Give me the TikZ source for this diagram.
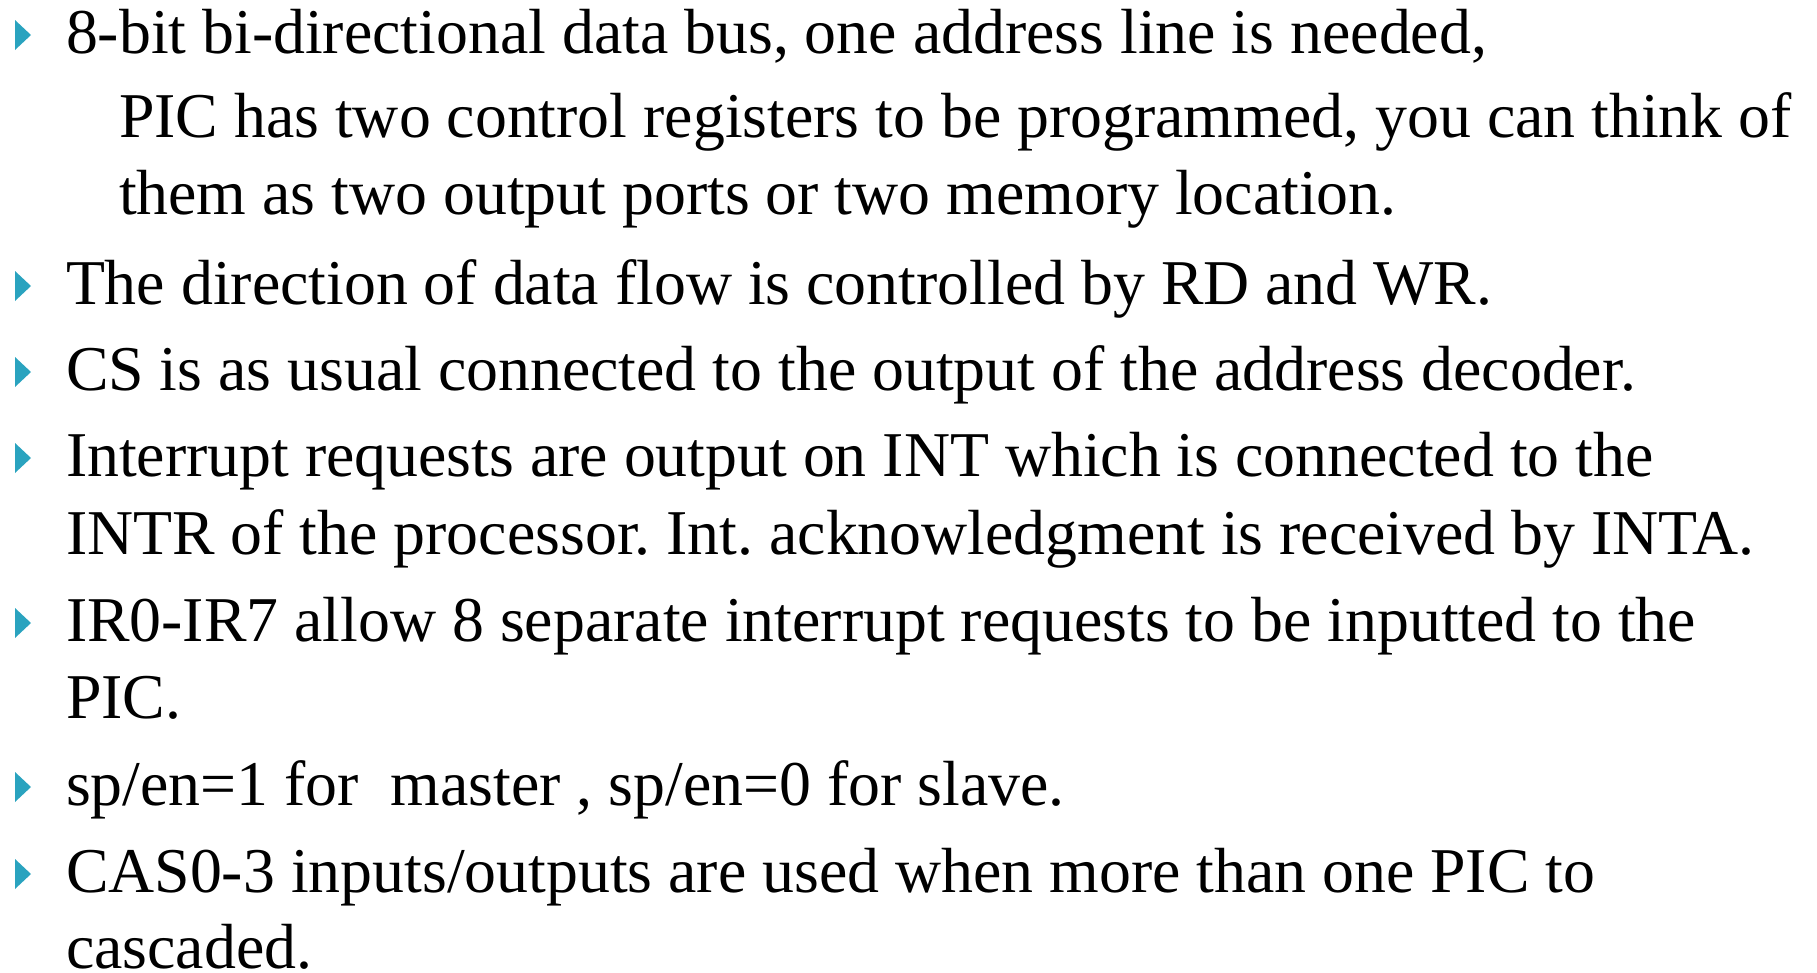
\documentclass[tikz,border=0pt]{standalone}
\usepackage{fontspec}
\setmainfont{Liberation Serif}
\frenchspacing
\definecolor{bulletblue}{HTML}{2AA3BF}
\tikzset{
  txt/.style={anchor=base west, inner sep=0pt, outer sep=0pt,
    font=\fontsize{63.8}{77}\selectfont},
}
% a small right-pointing triangle used as the list marker
\newcommand{\bulletmark}[1]{\fill[bulletblue] (15,#1-33) -- (31,#1-18) -- (15,#1-3) -- cycle;}
\begin{document}
\begin{tikzpicture}[x=1pt,y=-1pt]
  \useasboundingbox (0,0) rectangle (1817,972);
  \bulletmark{53}
  \node[txt] (l1) at (66,53) {8-bit bi-directional data bus, one address line is needed,};
  \node[txt] (l2) at (119,137) {PIC has two control registers to be programmed, you can think of};
  \node[txt] (l3) at (119,214) {them as two output ports or two memory location.};
  \bulletmark{304}
  \node[txt] (l4) at (66,304) {The direction of data flow is controlled by RD and WR.};
  \bulletmark{390}
  \node[txt] (l5) at (66,390) {CS is as usual connected to the output of the address decoder.};
  \bulletmark{476}
  \node[txt] (l6) at (66,476) {Interrupt requests are output on INT which is connected to the};
  \node[txt] (l7) at (66,554) {INTR of the processor. Int. acknowledgment is received by INTA.};
  \bulletmark{641}
  \node[txt] (l8) at (66,641) {IR0-IR7 allow 8 separate interrupt requests to be inputted to the};
  \node[txt] (l9) at (66,718) {PIC.};
  \bulletmark{805}
  \node[txt] (l10) at (66,805) {sp/en=1 for\ \ master , sp/en=0 for slave.};
  \bulletmark{892}
  \node[txt] (l11) at (66,892) {CAS0-3 inputs/outputs are used when more than one PIC to};
  \node[txt] (l12) at (66,968) {cascaded.};
\end{tikzpicture}
\end{document}
